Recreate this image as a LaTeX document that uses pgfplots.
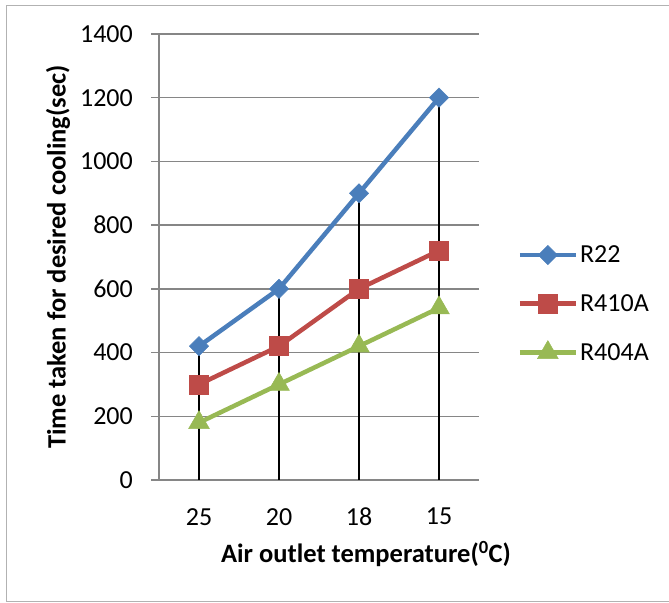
\documentclass[border=0pt]{standalone}
\usepackage{pgfplots}
\pgfplotsset{compat=1.18}
\usepackage{fontspec}
\setmainfont{Carlito}
\definecolor{sblue}{HTML}{4A7EBB}
\definecolor{sred}{HTML}{BE4B48}
\definecolor{sgreen}{HTML}{98B954}
\definecolor{gridgray}{HTML}{868686}
\begin{document}
\begin{tikzpicture}[x=1bp,y=1bp]
\useasboundingbox (0,0) rectangle (669,603);
\draw[gray!60, line width=1bp] (669,597)--(6,597)--(6,1.5)--(669,1.5);
\begin{axis}[
  at={(159bp,123bp)}, anchor=south west,
  scale only axis, width=320bp, height=446bp,
  xmin=-0.5, xmax=3.5, ymin=0, ymax=1400,
  xtick={0,1,2,3}, xticklabels={25,20,18,15},
  ytick={0,200,...,1400},
  axis x line*=bottom, axis y line*=left,
  x axis line style={draw=none},
  y axis line style={draw=gridgray, line width=1.5bp},
  ymajorgrids, grid style={draw=gridgray, line width=1.5bp},
  tick align=outside, major tick length=8bp,
  ytick style={draw=gridgray, line width=1.5bp},
  xtick style={draw=none},
  tick label style={font=\fontsize{26bp}{30bp}\selectfont},
  /pgf/number format/assume math mode=true,
  /pgf/number format/1000 sep={},
  yticklabel style={inner sep=0pt, xshift=-18bp},
  xticklabel style={inner sep=0pt, yshift=-20bp},
  xlabel={Air outlet temperature(\textsuperscript{0}C)},
  ylabel={Time taken for desired cooling(sec)},
  label style={font=\fontsize{26.5bp}{30bp}\selectfont\bfseries},
  xlabel style={at={(axis description cs:0.647,-0.166)}, anchor=center},
  ylabel style={at={(axis description cs:-0.3156,0.5)}, anchor=center},
  legend style={draw=none, fill=none, at={(axis description cs:1.12,0.395)}, anchor=west,
    font=\fontsize{26bp}{30bp}\selectfont, row sep=26bp, inner sep=0pt,
    /tikz/every even column/.append style={column sep=0pt}},
  legend cell align=left,
  legend image code/.code={\draw[mark repeat=2,mark phase=2,#1] plot coordinates {(0bp,0bp) (28bp,0bp) (56bp,0bp)};},
]
\addplot[sblue, line width=4.5bp, mark=square*, mark size=6.8bp, mark options={rotate=45, line width=0.5bp}]
  coordinates {(0,420) (1,600) (2,900) (3,1200)};
\addlegendentry{R22}
\addplot[sred, line width=4.5bp, mark=square*, mark size=9.5bp, mark options={line width=0.5bp}]
  coordinates {(0,300) (1,420) (2,600) (3,720)};
\addlegendentry{R410A}
\addplot[sgreen, line width=4.5bp, mark=triangle*, mark size=12bp, mark options={line width=0.5bp}]
  coordinates {(0,180) (1,300) (2,420) (3,540)};
\addlegendentry{R404A}
\addplot[black, line width=1.8bp, ycomb, forget plot]
  coordinates {(0,420) (1,600) (2,900) (3,1200)};
\end{axis}
\end{tikzpicture}
\end{document}
